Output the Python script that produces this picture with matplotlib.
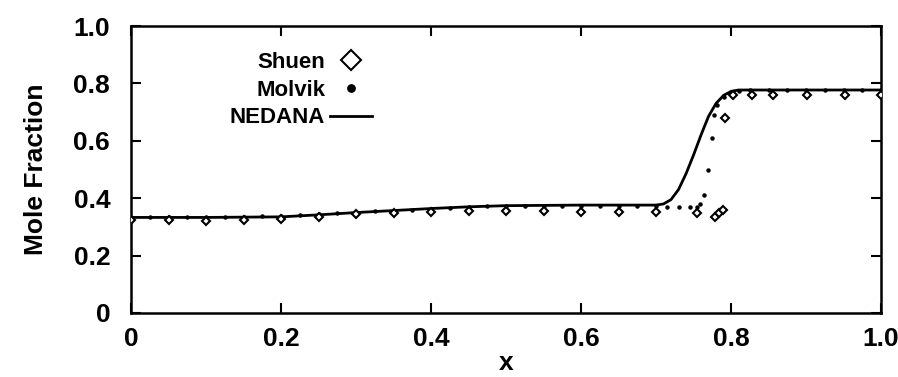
import matplotlib.pyplot as plt

plt.rcParams['font.family'] = ['Liberation Sans', 'DejaVu Sans']
plt.rcParams['font.weight'] = 'bold'

# Shuen (diamonds)
shuen_x = [0.0, 0.05, 0.10, 0.15, 0.20, 0.25, 0.30, 0.35, 0.40, 0.45, 0.50, 0.55,
           0.60, 0.65, 0.70, 0.754, 0.778, 0.784, 0.789, 0.792, 0.803, 0.828,
           0.856, 0.901, 0.952, 1.0]
shuen_y = [0.324, 0.324, 0.322, 0.324, 0.327, 0.336, 0.344, 0.347, 0.351, 0.355,
           0.355, 0.354, 0.353, 0.353, 0.353, 0.347, 0.336, 0.348, 0.359, 0.68,
           0.76, 0.76, 0.76, 0.76, 0.76, 0.76]

# Molvik (small dots)
molvik_x = [0.0, 0.025, 0.05, 0.075, 0.10, 0.125, 0.15, 0.175, 0.20, 0.225, 0.25,
            0.275, 0.30, 0.325, 0.35, 0.375, 0.40, 0.425, 0.45, 0.475, 0.50, 0.525,
            0.55, 0.575, 0.60, 0.625, 0.65, 0.675, 0.70, 0.715, 0.73, 0.745, 0.755,
            0.759, 0.764, 0.769, 0.775, 0.777, 0.781, 0.79, 0.799, 0.81, 0.825,
            0.85, 0.875, 0.90, 0.925, 0.95, 0.975, 1.0]
molvik_y = [0.335, 0.335, 0.335, 0.335, 0.335, 0.335, 0.336, 0.337, 0.339, 0.342,
            0.345, 0.348, 0.351, 0.354, 0.357, 0.360, 0.364, 0.367, 0.370, 0.372,
            0.373, 0.373, 0.373, 0.373, 0.373, 0.373, 0.373, 0.372, 0.372, 0.371,
            0.371, 0.370, 0.370, 0.38, 0.41, 0.50, 0.61, 0.69, 0.725, 0.752,
            0.767, 0.775, 0.777, 0.777, 0.777, 0.777, 0.777, 0.777, 0.777, 0.777]

# NEDANA (solid line)
nedana_x = [0.0, 0.10, 0.20, 0.25, 0.30, 0.35, 0.40, 0.45, 0.50, 0.60, 0.70, 0.71,
            0.72, 0.73, 0.74, 0.75, 0.76, 0.77, 0.78, 0.79, 0.80, 0.81, 0.90, 1.0]
nedana_y = [0.333, 0.333, 0.335, 0.342, 0.350, 0.357, 0.364, 0.370, 0.374, 0.376,
            0.376, 0.380, 0.395, 0.43, 0.485, 0.55, 0.62, 0.685, 0.73, 0.758,
            0.772, 0.777, 0.777, 0.777]

fig = plt.figure(figsize=(8.98, 3.77), dpi=100)
ax = fig.add_axes([131/898, 1 - 313/377, 750/898, 287/377])

ax.plot(nedana_x, nedana_y, '-', color='black', lw=2.0, label='NEDANA', zorder=2)
ax.plot(molvik_x, molvik_y, 'o', color='black', ms=2.2, label='Molvik', zorder=3)
ax.plot(shuen_x, shuen_y, 'D', color='black', mfc='white', mec='black', ms=4.2,
        mew=1.5, ls='none', label='Shuen', zorder=4)

ax.set_xlim(0, 1.0)
ax.set_ylim(0, 1.0)
ax.set_xticks([0, 0.2, 0.4, 0.6, 0.8, 1.0])
ax.set_xticklabels(['0', '0.2', '0.4', '0.6', '0.8', '1.0'])
ax.set_yticks([0, 0.2, 0.4, 0.6, 0.8, 1.0])
ax.set_yticklabels(['0', '0.2', '0.4', '0.6', '0.8', '1.0'])
ax.tick_params(direction='in', length=7, width=1.5, top=True, right=True,
               labelsize=19)
ax.tick_params(axis='y', pad=15)
ax.tick_params(axis='x', pad=10)
for s in ax.spines.values():
    s.set_linewidth(1.8)

ax.set_xlabel('x', fontsize=19, fontweight='bold', labelpad=0)
ax.set_ylabel('Mole Fraction', fontsize=19, fontweight='bold', labelpad=18)

h, l = ax.get_legend_handles_labels()
order = [2, 1, 0]
leg = ax.legend([h[i] for i in order], [l[i] for i in order],
                loc='upper right', bbox_to_anchor=(383/898, 1 - 41/377),
                bbox_transform=fig.transFigure, frameon=False, markerfirst=False,
                fontsize=16, handlelength=1.9, handletextpad=0.2,
                labelspacing=0.3, borderpad=0, markerscale=2.4)

fig.savefig('out.png', dpi=100)
